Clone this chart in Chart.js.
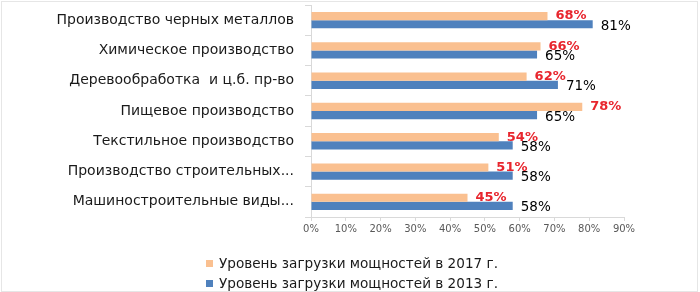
<!DOCTYPE html>
<html><head><meta charset="utf-8">
<script src="https://cdn.jsdelivr.net/npm/chart.js@4/dist/chart.umd.min.js"></script>
<style>
html,body{margin:0;padding:0;background:#fff;}
#wrap{position:relative;width:700px;height:292px;overflow:hidden;}
#frame{position:absolute;left:1px;top:1px;width:695px;height:289px;border:1px solid #e6e6e6;pointer-events:none;}
#legend{position:absolute;left:206px;top:253px;font-family:"DejaVu Sans",sans-serif;font-size:13.6px;color:#1a1a1a;line-height:20px;}
#legend .it{display:flex;align-items:center;white-space:nowrap;}
#legend .sw{display:inline-block;width:7px;height:7px;margin-right:6px;}
</style></head>
<body><div id="wrap"><canvas id="c" width="700" height="292"></canvas><div id="frame"></div><div id="legend"></div></div>
<script>
const categories = ["Производство черных металлов","Химическое производство","Деревообработка  и ц.б. пр-во","Пищевое производство","Текстильное производство","Производство строительных...","Машиностроительные виды..."];
const seriesNames = ["Уровень загрузки мощностей в 2017 г.","Уровень загрузки мощностей в 2013 г."];
const values2017 = [68,66,62,78,54,51,45];
const values2013 = [81,65,71,65,58,58,58];
const xTicks = [0,10,20,30,40,50,60,70,80,90];
const colors = ["#FAC090","#4F81BD"];

const valueLabels = {
  id:'valueLabels',
  afterDatasetsDraw(chart){
    const ctx = chart.ctx;
    chart.data.datasets.forEach((ds,di)=>{
      const meta = chart.getDatasetMeta(di);
      meta.data.forEach((bar,i)=>{
        ctx.save();
        ctx.textBaseline='middle';
        ctx.textAlign='left';
        if(di===0){
          ctx.font='bold 13px "DejaVu Sans"';
          ctx.fillStyle='#e8262e';
          ctx.fillText(ds.data[i]+'%', bar.x+8, bar.y);
        } else {
          ctx.font='13.5px "DejaVu Sans"';
          ctx.fillStyle='#000';
          ctx.fillText(ds.data[i]+'%', bar.x+8, bar.y+2);
        }
        ctx.restore();
      });
    });
  }
};

const chart = new Chart(document.getElementById('c'),{
  type:'bar',
  data:{
    labels:categories,
    datasets:[
      {label:seriesNames[0],data:values2017,backgroundColor:colors[0],categoryPercentage:0.54,barPercentage:1},
      {label:seriesNames[1],data:values2013,backgroundColor:colors[1],categoryPercentage:0.54,barPercentage:1}
    ]
  },
  options:{
    indexAxis:'y',
    responsive:false,
    animation:false,
    layout:{padding:{top:5,right:76,bottom:57,left:0}},
    plugins:{legend:{display:false},tooltip:{enabled:false}},
    scales:{
      x:{
        min:0,max:90,
        afterBuildTicks:s=>{s.ticks = xTicks.map(v=>({value:v}));},
        afterFit:s=>{s.height=18;s.paddingLeft=0;s.paddingRight=0;},
        grid:{drawOnChartArea:false,tickLength:4,color:'#d9d9d9'},
        border:{color:'#d9d9d9'},
        ticks:{callback:v=>v+'%',color:'#595959',font:{family:'DejaVu Sans',size:10},padding:2,maxRotation:0}
      },
      y:{
        afterFit:s=>{s.width=311;s.paddingTop=0;s.paddingBottom=0;},
        grid:{drawOnChartArea:false,tickLength:6,color:'#d9d9d9',offset:true},
        border:{color:'#d9d9d9'},
        ticks:{color:'#1a1a1a',font:{family:'DejaVu Sans',size:14},padding:11,autoSkip:false}
      }
    }
  },
  plugins:[valueLabels]
});

const lg = document.getElementById('legend');
seriesNames.forEach((n,i)=>{
  const d=document.createElement('div');d.className='it';
  const s=document.createElement('span');s.className='sw';s.style.background=colors[i];
  d.appendChild(s);d.appendChild(document.createTextNode(n));lg.appendChild(d);
});
</script></body></html>
